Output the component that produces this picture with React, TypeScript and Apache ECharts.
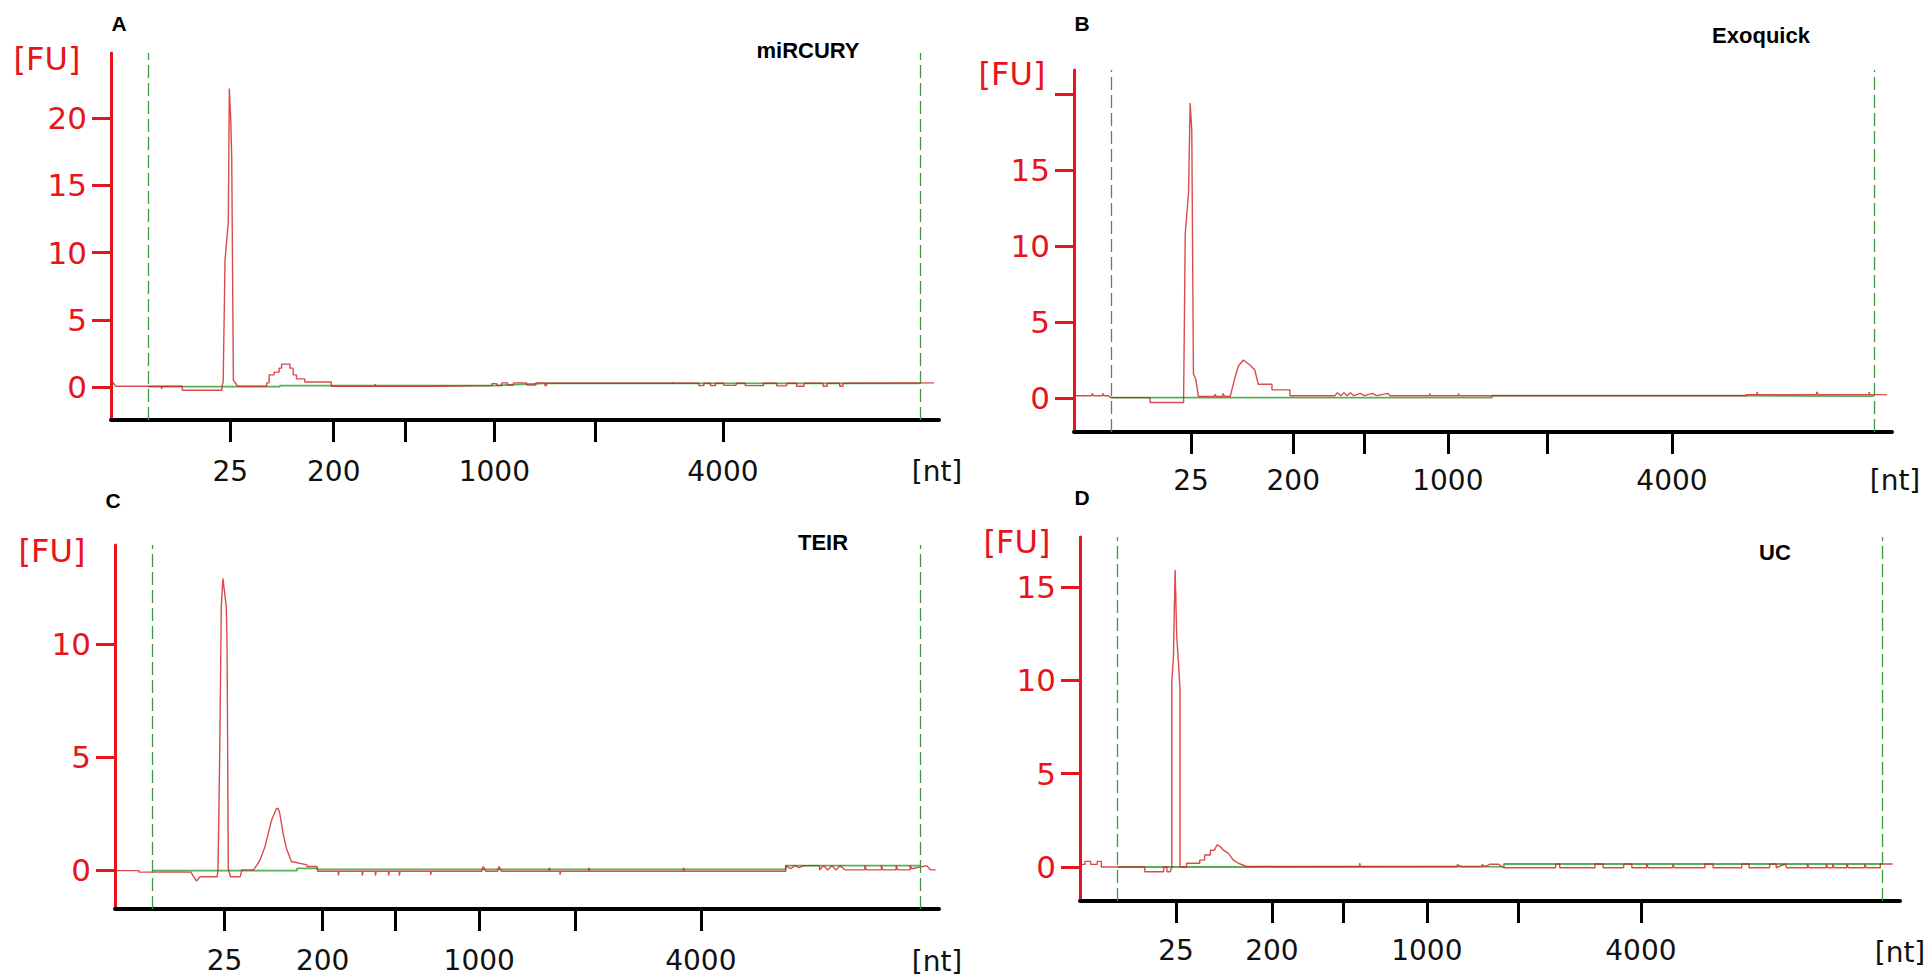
import React, { useEffect, useRef } from "react";
import * as echarts from "echarts";

// ---------- data ----------
const ladderSizes = [25, 200, 500, 1000, 2000, 4000];
const labeledSizes = [25, 200, 1000, 4000];

const panelLetters = ["A", "B", "C", "D"];
const panelTitles = ["miRCURY", "Exoquick", "TEIR", "UC"];

// x positions (relative migration, 0-100) of ladder ticks per panel
const ticksA = [14.4, 26.9, 35.5, 46.3, 58.5, 73.9];
const ticksB = [14.3, 26.8, 35.5, 45.7, 57.8, 73.1];
const ticksC = [13.3, 25.2, 34.0, 44.2, 55.9, 71.1];
const ticksD = [11.7, 23.4, 32.1, 42.3, 53.5, 68.4];

// lower / upper markers (dashed)
const markersA = [4.5, 97.7];
const markersB = [4.5, 97.8];
const markersC = [4.5, 97.7];
const markersD = [4.6, 97.8];

// FU axis ticks / labels
const yTicksA = [0, 5, 10, 15, 20];
const yLabelsA = [0, 5, 10, 15, 20];
const yTicksB = [0, 5, 10, 15, 20];
const yLabelsB = [0, 5, 10, 15];
const yTicksC = [0, 5, 10];
const yLabelsC = [0, 5, 10];
const yTicksD = [0, 5, 10, 15];
const yLabelsD = [0, 5, 10, 15];

const yRangeA = [-2.46, 24.85];
const yRangeB = [-2.24, 21.58];
const yRangeC = [-1.73, 14.38];
const yRangeD = [-1.82, 17.67];

// electropherogram traces [position, FU]
const redA = [
  [0, 0.5], [0.6, 0.05], [6.1, 0.05], [6.1, -0.15], [6.2, 0.05], [8.6, 0.05], [8.6, -0.25],
  [13.4, -0.25], [13.4, 0.0], [13.55, 0.4], [13.77, 9.4], [13.97, 10.9], [14.17, 12.3],
  [14.29, 22.2], [14.46, 19.9], [14.58, 17.1], [14.78, 0.5], [15.29, 0.05],
  [18.8, 0.05], [18.8, 0.3], [19.1, 0.3], [19.1, 0.9], [19.7, 0.9], [19.7, 1.1], [20.3, 1.1],
  [20.3, 1.4], [20.6, 1.4], [20.6, 1.7], [21.6, 1.7], [21.6, 1.4], [22.0, 1.4], [22.0, 0.9],
  [22.4, 0.9], [22.4, 0.6], [23.4, 0.6], [23.4, 0.37], [26.6, 0.37], [26.6, 0.05],
  [31.9, 0.05], [31.9, 0.2], [32.0, 0.05], [38.6, 0.05], [38.6, 0.1], [46.0, 0.1],
  [46.0, 0.25], [46.6, 0.25], [46.6, 0.1], [47.2, 0.1], [47.2, 0.3], [47.9, 0.3], [47.9, 0.15],
  [48.6, 0.15], [48.6, 0.3], [50.2, 0.3], [50.2, 0.15], [51.3, 0.15], [51.3, 0.3], [52.4, 0.3],
  [52.4, 0.1], [52.6, 0.1], [52.6, 0.27], [67.8, 0.27], [67.8, 0.35], [67.9, 0.27],
  [71.0, 0.27], [71.0, 0.1], [71.6, 0.1], [71.6, 0.27], [72.4, 0.27], [72.4, 0.1], [73.0, 0.1],
  [73.0, 0.27], [74.0, 0.27], [74.0, 0.12], [75.5, 0.12], [75.5, 0.27], [76.6, 0.27],
  [76.6, 0.1], [78.8, 0.1], [78.8, 0.27], [80.4, 0.27], [80.4, 0.08], [81.6, 0.08],
  [81.6, 0.27], [82.8, 0.27], [82.8, 0.05], [83.7, 0.05], [83.7, 0.27], [86.0, 0.27],
  [86.0, 0.05], [86.5, 0.05], [86.5, 0.27], [88.0, 0.27], [88.0, 0.05], [88.4, 0.05],
  [88.4, 0.27], [99.4, 0.3],
];
const greenA = [[4.5, 0.02], [20.4, 0.02], [20.4, 0.1], [46.0, 0.1], [52.4, 0.27], [97.7, 0.27]];

const redB = [
  [0, 0.15], [2.2, 0.15], [2.2, 0.3], [2.4, 0.15], [3.5, 0.15], [3.5, 0.3], [3.7, 0.15],
  [4.2, 0.15], [4.5, 0.02], [9.3, 0.02], [9.3, -0.3], [13.4, -0.3], [13.4, 0.0],
  [13.6, 10.8], [14.0, 13.5], [14.2, 19.4], [14.4, 17.6], [14.6, 1.6], [14.9, 1.2],
  [15.2, 0.1], [17.2, 0.1], [17.2, 0.25], [17.4, 0.1], [18.2, 0.1], [18.2, 0.3], [18.4, 0.1],
  [19.1, 0.1], [19.7, 1.4], [20.1, 2.1], [20.7, 2.5], [21.5, 2.17], [22.1, 1.84],
  [22.5, 0.96], [22.5, 0.9], [24.2, 0.9], [24.2, 0.53], [26.4, 0.53], [26.4, 0.15],
  [31.9, 0.15], [32.2, 0.35], [32.6, 0.15], [33.0, 0.35], [33.4, 0.15], [33.8, 0.35],
  [34.2, 0.15], [35.0, 0.3], [35.5, 0.15], [36.5, 0.3], [37.0, 0.15], [38.4, 0.3],
  [38.6, 0.15], [43.5, 0.15], [43.5, 0.3], [43.6, 0.15], [47.0, 0.15], [47.0, 0.3],
  [47.1, 0.15], [82.2, 0.15], [82.2, 0.22], [83.5, 0.22], [83.5, 0.4], [83.6, 0.22],
  [90.8, 0.22], [90.8, 0.4], [91.0, 0.22], [97.2, 0.22], [97.2, 0.4], [97.3, 0.22],
  [99.4, 0.22],
];
const greenB = [[4.5, 0.02], [51.1, 0.02], [51.1, 0.15], [82.2, 0.15], [82.2, 0.12], [97.8, 0.12]];

const redC = [
  [0, -0.03], [2.9, -0.03], [2.9, -0.1], [9.2, -0.1], [9.9, -0.5], [10.3, -0.3],
  [12.4, -0.3], [12.5, 0.0], [12.7, 4.9], [12.9, 11.65], [13.1, 12.9], [13.5, 11.65],
  [13.6, 10.0], [13.75, 0.07], [14.0, -0.3], [15.2, -0.3], [15.4, 0.0], [16.8, 0.0],
  [17.2, 0.2], [17.6, 0.44], [18.2, 1.03], [18.6, 1.62], [19.0, 2.2], [19.6, 2.72],
  [19.8, 2.72], [20.0, 2.5], [20.4, 1.62], [20.8, 0.96], [21.4, 0.37], [23.3, 0.22],
  [23.3, 0.15], [24.5, 0.15], [24.6, -0.06], [27.1, -0.06], [27.1, -0.25], [27.2, -0.06],
  [30.0, -0.06], [30.0, -0.25], [30.1, -0.06], [31.6, -0.06], [31.6, -0.25], [31.7, -0.06],
  [33.2, -0.06], [33.2, -0.25], [33.3, -0.06], [34.5, -0.06], [34.5, -0.25], [34.6, -0.06],
  [38.3, -0.06], [38.3, -0.22], [38.4, -0.06], [44.5, -0.06], [44.7, 0.15], [45.0, -0.06],
  [46.4, -0.06], [46.6, 0.15], [46.9, -0.06], [52.7, -0.06], [52.7, 0.1], [52.8, -0.06],
  [54.0, -0.06], [54.0, -0.22], [54.1, -0.06], [57.5, -0.06], [57.5, 0.1], [57.6, -0.06],
  [69.0, -0.06], [69.0, 0.1], [69.1, -0.06], [81.4, -0.06], [81.4, 0.19], [82.0, 0.05],
  [82.5, 0.19], [83.0, 0.1], [83.6, 0.19], [85.5, 0.19], [85.5, 0.0], [86.0, 0.19],
  [86.5, 0.0], [87.0, 0.19], [87.5, 0.0], [88.0, 0.19], [88.6, 0.0], [91.0, 0.0],
  [91.0, 0.19], [91.2, 0.0], [93.0, 0.0], [93.0, 0.19], [93.2, 0.0], [94.8, 0.0],
  [94.8, 0.19], [95.0, 0.0], [96.5, 0.0], [96.5, 0.19], [96.7, 0.05], [98.5, 0.19],
  [99.0, 0.0], [99.6, 0.0],
];
const greenC = [[4.5, -0.03], [22.1, -0.03], [22.1, 0.07], [24.6, 0.07], [24.6, 0.02], [81.4, 0.02], [81.4, 0.19], [97.7, 0.19]];

const redD = [
  [0, 0.14], [0.6, 0.14], [0.6, 0.3], [1.3, 0.3], [1.3, 0.14], [2.1, 0.14], [2.1, 0.3],
  [2.6, 0.3], [2.6, 0.0], [7.9, 0.0], [7.9, -0.25], [10.2, -0.25], [10.2, 0.0], [10.6, 0.0],
  [10.6, -0.25], [11.0, -0.25], [11.2, 0.0], [11.2, 9.9], [11.4, 11.35], [11.6, 15.9],
  [11.8, 12.3], [12.0, 11.0], [12.2, 9.5], [12.2, 0.0], [13.0, 0.0], [13.0, 0.2],
  [14.6, 0.2], [14.6, 0.37], [15.2, 0.37], [15.2, 0.64], [15.9, 0.64], [15.9, 0.9],
  [16.4, 0.9], [16.7, 1.18], [17.1, 1.1], [17.5, 0.9], [18.1, 0.73], [18.7, 0.37],
  [19.3, 0.2], [20.3, 0.03], [34.1, 0.03], [34.1, 0.2], [34.2, 0.03], [46.0, 0.03],
  [46.0, 0.12], [46.5, 0.03], [49.0, 0.03], [49.0, 0.12], [49.5, 0.03], [50.0, 0.15],
  [51.0, 0.15], [51.7, -0.04], [58.0, -0.04], [58.0, 0.16], [58.5, 0.16], [58.5, -0.04],
  [62.8, -0.04], [62.8, 0.16], [63.8, 0.16], [63.8, -0.04], [66.3, -0.04], [66.3, 0.16],
  [67.3, 0.16], [67.3, -0.04], [69.1, -0.04], [69.1, 0.16], [69.3, -0.04], [72.3, -0.04],
  [72.3, 0.16], [72.5, -0.04], [76.2, -0.04], [76.2, 0.16], [77.2, 0.16], [77.2, -0.04],
  [80.7, -0.04], [80.7, 0.16], [81.6, 0.16], [81.6, -0.04], [84.1, -0.04], [84.1, 0.16],
  [84.9, 0.16], [84.9, -0.04], [86.0, 0.16], [86.2, -0.04], [88.7, -0.04], [88.7, 0.16],
  [88.9, -0.04], [91.0, -0.04], [91.0, 0.16], [91.2, -0.04], [91.8, -0.04], [91.8, 0.16],
  [92.0, -0.04], [93.5, -0.04], [93.5, 0.16], [93.7, -0.04], [95.7, -0.04], [95.7, 0.16],
  [95.9, -0.04], [97.6, -0.04], [97.6, 0.16], [99.1, 0.16],
];
const greenD = [[4.6, 0.0], [20.3, 0.0], [20.3, 0.02], [51.7, 0.02], [51.7, 0.16], [97.8, 0.16]];

// ---------- layout / style ----------
const grids = [
  { left: 111, top: 53, width: 828, height: 367 },
  { left: 1074, top: 70, width: 818, height: 362 },
  { left: 115, top: 545, width: 824, height: 364 },
  { left: 1080, top: 537, width: 820, height: 364 },
];
const labelMargins = [37, 34, 37, 35];

const RED_AXIS = "#e8141c";
const TRACE = "rgba(210, 30, 30, 0.8)";
const BASE = "#5aad5a";
const MARK = "#3d9a3d";

export default function App() {
  const ref = useRef<HTMLDivElement>(null);

  useEffect(() => {
    if (!ref.current) return;
    const chart = echarts.init(ref.current, undefined, { renderer: "svg" });

    const ticksAll = [ticksA, ticksB, ticksC, ticksD];
    const markersAll = [markersA, markersB, markersC, markersD];
    const yTicksAll = [yTicksA, yTicksB, yTicksC, yTicksD];
    const yLabelsAll = [yLabelsA, yLabelsB, yLabelsC, yLabelsD];
    const yRanges = [yRangeA, yRangeB, yRangeC, yRangeD];
    const reds = [redA, redB, redC, redD];
    const greens = [greenA, greenB, greenC, greenD];

    const xAxes = ticksAll.map((ticks, i) => {
      const labelVals = ticks.filter((_, k) => labeledSizes.includes(ladderSizes[k]));
      return {
        type: "value",
        gridIndex: i,
        min: 0,
        max: 100,
        splitLine: { show: false },
        axisLine: { onZero: false, lineStyle: { color: "#000", width: 4 } },
        axisTick: { show: true, customValues: ticks, length: 22, lineStyle: { color: "#000", width: 3 } },
        axisLabel: {
          customValues: labelVals,
          margin: labelMargins[i],
          fontSize: 28,
          fontFamily: "DejaVu Sans",
          color: "#111",
          formatter: (v: number) => {
            let best = 0;
            let d = 1e9;
            ticks.forEach((t, k) => {
              if (Math.abs(t - v) < d) { d = Math.abs(t - v); best = k; }
            });
            return String(ladderSizes[best]);
          },
        },
      };
    });

    const yAxes = yTicksAll.map((ticks, i) => ({
      type: "value",
      gridIndex: i,
      min: yRanges[i][0],
      max: yRanges[i][1],
      splitLine: { show: false },
      axisLine: { onZero: false, lineStyle: { color: RED_AXIS, width: 3 } },
      axisTick: { show: true, customValues: ticks, length: 19, lineStyle: { color: RED_AXIS, width: 3 } },
      axisLabel: {
        customValues: yLabelsAll[i],
        margin: 24,
        fontSize: 31,
        fontFamily: "DejaVu Sans",
        color: RED_AXIS,
      },
    }));

    const series: any[] = [];
    for (let i = 0; i < 4; i++) {
      series.push({
        type: "line",
        xAxisIndex: i,
        yAxisIndex: i,
        data: greens[i],
        showSymbol: false,
        symbol: "none",
        lineStyle: { color: BASE, width: 1.8 },
        z: 2,
        markLine: {
          silent: true,
          symbol: ["none", "none"],
          label: { show: false },
          lineStyle: { color: MARK, type: [13, 5], width: 1.3 },
          data: markersAll[i].map((m) => ({ xAxis: m })),
        },
      });
      series.push({
        type: "line",
        xAxisIndex: i,
        yAxisIndex: i,
        data: reds[i],
        showSymbol: false,
        symbol: "none",
        lineStyle: { color: TRACE, width: 1.4 },
        z: 3,
      });
    }

    const fuPos = [[47, 59], [1012, 74], [52, 551], [1017, 542]];
    const ntPos = [[937, 471], [1895, 480], [937, 961], [1900, 952]];
    const letterPos = [[119, 23], [1082, 23], [113, 500], [1082, 497]];
    const titlePos = [[808, 50], [1761, 35], [823, 542], [1775, 552]];

    const txt = (text: string, x: number, y: number, size: number, color: string, weight: string, family: string) => ({
      type: "text",
      x,
      y,
      silent: true,
      style: {
        text,
        fill: color,
        fontSize: size,
        fontWeight: weight,
        fontFamily: family,
        textAlign: "center",
        textVerticalAlign: "middle",
        align: "center",
        verticalAlign: "middle",
      },
    });

    const graphic: any[] = [];
    for (let i = 0; i < 4; i++) {
      graphic.push(txt("[FU]", fuPos[i][0], fuPos[i][1], 32, RED_AXIS, "normal", "DejaVu Sans"));
      graphic.push(txt("[nt]", ntPos[i][0], ntPos[i][1], 28, "#111", "normal", "DejaVu Sans"));
      graphic.push(txt(panelLetters[i], letterPos[i][0], letterPos[i][1], 21, "#000", "bold", "Liberation Sans"));
      graphic.push(txt(panelTitles[i], titlePos[i][0], titlePos[i][1], 22, "#000", "bold", "Liberation Sans"));
    }

    chart.setOption({
      animation: false,
      backgroundColor: "#fff",
      grid: grids.map((g) => ({ ...g, containLabel: false })),
      xAxis: xAxes,
      yAxis: yAxes,
      series,
      graphic,
    });

    return () => chart.dispose();
  }, []);

  return (
    <div
      ref={ref}
      style={{ position: "fixed", left: 0, top: 0, width: 1926, height: 980, background: "#fff" }}
    />
  );
}
